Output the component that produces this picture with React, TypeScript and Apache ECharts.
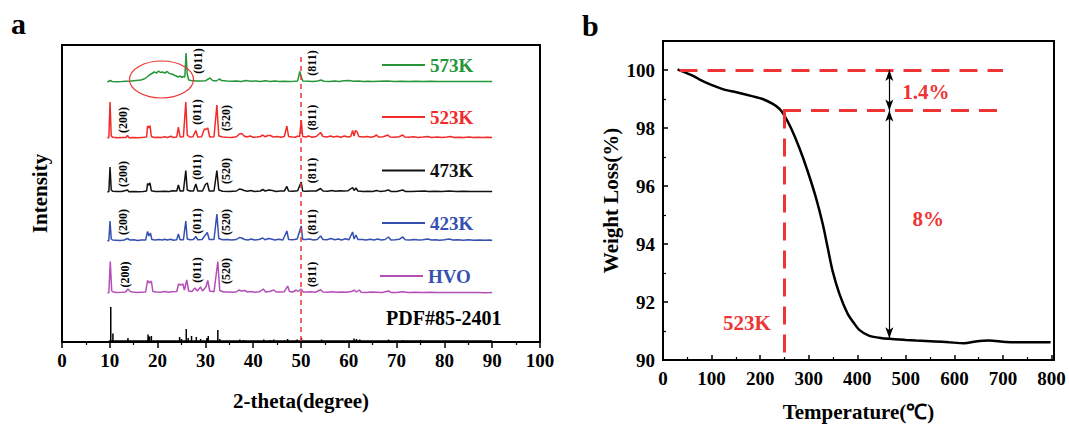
import React, { useEffect, useRef } from "react";
import * as echarts from "echarts";

const FONT = "'Liberation Serif', 'Times New Roman', serif";

// ---------- Panel a : XRD patterns (2-theta, relative intensity) ----------
const xrd573K: number[][] = [[9.5,0],[10.1,1.5],[10.5,0.5],[11.5,0.3],[12.5,0.5],[13.5,0.8],[14.5,1],[15.5,1.5],[16.5,2],[17.2,3],[17.8,5],[18.3,7],[18.8,8.5],[19.3,10],[19.8,9],[20.2,11],[20.6,9.5],[21.0,10],[21.5,9],[22.0,10.5],[22.5,8.5],[23.0,8],[23.4,7],[23.9,6],[24.3,5],[24.7,6],[25.0,4.5],[25.4,5.5],[25.7,5],[25.95,29],[26.2,8],[26.5,2],[27,1.5],[28,1],[29,1],[30,1.2],[30.6,3],[31,4],[31.5,1.5],[32.3,1],[32.9,3],[33.4,1.5],[34.5,1],[35.5,0.8],[36.5,1],[37.5,0.6],[38.5,1.5],[39.5,0.8],[40.5,1],[41.5,0.5],[42.5,1.2],[43.5,0.6],[44.5,1],[45.5,0.5],[46.5,0.8],[47.5,0.6],[48.5,0.8],[49.3,1],[49.75,10.5],[50.05,5],[50.4,1],[51.5,0.8],[52.5,0.5],[53.5,1],[54.2,2],[54.8,0.8],[56,0.6],[57,1],[58,0.5],[59,1.2],[60,1.5],[61,0.8],[62,1],[63,0.5],[64,0.8],[65,0.5],[66.5,0.8],[68,1],[69.5,0.5],[71,0.8],[72.5,0.5],[74,0.7],[75.5,0.4],[77,0.7],[78.5,0.4],[80,0.6],[82,0.4],[84,0.6],[86,0.4],[88,0.5],[90,0.4]];

const xrd523K: number[][] = [[9.5,0],[9.8,0.5],[10.05,36],[10.3,2],[10.6,0.8],[11.5,0.3],[12.5,0.6],[13.4,0.4],[13.7,2.5],[14.0,0.3],[15,0.6],[16,0.3],[17,0.7],[17.7,1],[17.9,12],[18.15,10],[18.4,12.5],[18.7,1.5],[19.2,0.5],[20,0.8],[20.8,0.4],[21.4,1.2],[22,0.5],[22.8,1.8],[23.2,0.6],[24.0,1],[24.35,11],[24.7,1],[25.4,1.2],[25.9,36],[26.2,3],[26.7,1],[27.4,1.2],[28.0,7.5],[28.4,1],[29.2,1.2],[29.8,9],[30.1,8.5],[30.5,10],[30.9,1],[31.8,1.2],[32.4,33],[32.8,2],[33.6,1],[34.5,0.8],[35.5,0.6],[36.5,1.2],[37.1,4],[37.6,4.5],[38.1,2],[38.6,1],[39.4,2],[40,0.8],[40.8,1],[41.5,1.5],[42,3],[42.5,1.2],[43.1,2.5],[43.6,2.5],[44.2,1],[45,1.5],[45.8,0.8],[46.5,1.5],[47.05,12],[47.4,1.5],[48.2,1],[48.8,0.8],[49.4,2],[49.7,1],[50.05,18],[50.35,1.5],[51,1],[51.6,2],[52.3,0.8],[53.2,1.5],[54.1,5.5],[54.6,1.5],[55.4,1],[56.2,2],[56.8,1],[57.6,1.8],[58.3,0.8],[59.1,2],[59.8,1],[60.4,1.5],[60.8,7.5],[61.1,2],[61.4,7.5],[61.75,6],[62.1,1.5],[63,1],[63.8,1.5],[64.6,0.8],[65.3,1.5],[65.8,3],[66.2,1],[67.2,1.2],[68.2,3],[68.6,1],[69.5,0.8],[70.5,1.2],[71.3,3],[71.7,1],[72.6,0.8],[73.5,1.2],[74.5,0.6],[75.5,1],[76.5,1.5],[77.3,0.6],[78.5,1],[79.5,0.5],[80.5,1],[81.3,1.5],[82,0.5],[83,0.8],[84,0.5],[85.2,1],[86,0.5],[87,0.8],[88,0.4],[89,0.8],[90,0.5]];

const xrd473K: number[][] = [[9.5,0],[9.8,0.5],[10.05,25],[10.3,2],[10.6,0.8],[11.5,0.4],[12.5,0.6],[13.7,2],[14.0,0.3],[15,0.5],[16,0.3],[17,0.5],[17.7,1],[17.9,8.5],[18.15,7],[18.4,9],[18.7,1.2],[19.5,0.5],[20.5,0.6],[21.4,0.8],[22.5,0.4],[23,1.2],[24.0,1],[24.35,7],[24.7,1],[25.4,1],[25.9,21.5],[26.2,2],[26.8,1],[27.5,1],[28.0,8],[28.4,1],[29.4,1],[30.0,7.5],[30.4,9],[30.8,1],[31.8,1],[32.4,21.5],[32.8,2],[33.6,0.8],[35,0.5],[36.5,1],[37.1,3],[37.6,2.5],[38.1,1.5],[38.8,0.8],[39.5,1.5],[40.3,0.6],[41.5,1],[42,2.5],[42.5,1],[43.3,2],[44,1.5],[44.8,0.6],[45.6,1],[46.5,1],[47.05,5.5],[47.4,1],[48.3,0.8],[49.3,1.2],[50.05,10],[50.35,1],[51,0.8],[52,1],[53.2,1],[54.1,3.5],[54.6,1],[55.6,0.8],[56.4,1.5],[57.3,0.8],[58,1.2],[59,1],[59.8,1.2],[60.8,4.5],[61.1,1.5],[61.5,4],[61.9,1],[63,0.6],[64,0.8],[65,0.5],[65.8,1.5],[66.5,0.6],[67.5,1],[68.3,2],[68.8,0.6],[70,0.5],[71.3,2],[71.8,0.6],[73,0.5],[74.5,0.8],[75.8,1],[76.7,0.5],[78,0.8],[79.5,0.4],[81,1],[82.5,0.5],[84,0.8],[85.5,0.4],[87,0.6],[88.5,0.4],[90,0.5]];

const xrd423K: number[][] = [[9.5,0],[9.8,0.5],[10.05,20],[10.3,2],[10.6,1],[11.3,0.8],[12.2,0.5],[13,1],[13.7,2.5],[14.2,1],[15,1.2],[15.8,0.6],[16.6,1],[17.5,1],[17.9,9.5],[18.2,5],[18.5,8],[18.8,1.5],[19.5,1],[20.3,1.5],[21,1],[21.5,1.8],[22,1],[22.8,1.8],[23.3,0.8],[24.0,1.2],[24.35,7],[24.7,1.2],[25.4,1.2],[25.9,20],[26.2,2],[26.8,1.2],[27.5,1.5],[28.0,4.5],[28.4,1.2],[29.3,1.5],[30.0,6],[30.4,8.5],[30.8,1.5],[31.8,1.5],[32.4,27],[32.8,2.5],[33.6,1.2],[34.5,1.5],[35.5,1],[36.5,1.5],[37.1,3.5],[37.6,3],[38.2,1.5],[38.9,1],[39.6,2],[40.3,1],[41.2,1.5],[42,3],[42.5,1.2],[43.2,2.5],[43.8,2],[44.5,1],[45.3,1.8],[46.2,1],[47.05,10],[47.4,1.5],[48.3,1.2],[49.2,2],[50.05,15],[50.35,1.5],[51,1.5],[51.8,2],[52.6,1],[53.4,1.5],[54.1,5],[54.6,1.5],[55.4,1.2],[56.3,2.5],[57,1.2],[57.8,2],[58.5,1],[59.3,2.2],[60,1.2],[60.8,9],[61.1,2],[61.5,6],[61.9,1.5],[62.8,1.5],[63.6,1],[64.5,1.8],[65.3,1],[66,2],[66.8,1],[67.6,1.5],[68.3,4],[68.8,1],[69.7,1.2],[70.6,1.8],[71.3,4],[71.8,1.2],[72.8,1],[73.7,1.5],[74.6,1],[75.5,1.2],[76.5,2],[77.3,1],[78.2,1.2],[79,0.8],[80,1.2],[81,2],[81.8,1],[82.8,1.2],[84,0.8],[85,1.2],[86.2,0.8],[87.3,1],[88.5,0.8],[89.5,1],[90,0.6]];

const xrdHVO: number[][] = [[9.5,0],[9.8,0.5],[10.1,31.5],[10.4,2],[10.7,1],[11.5,0.6],[12.5,0.8],[13.3,1],[13.8,4],[14.3,1.5],[14.8,1],[15.6,0.6],[16.5,0.8],[17.5,1],[17.9,12.5],[18.3,10],[18.7,12],[19.0,1.5],[19.8,1],[20.6,0.8],[21.5,1.5],[22.3,0.8],[23,1.2],[24,1.5],[24.4,9],[24.8,8],[25.3,9],[25.6,3],[26.1,13],[26.5,2],[27.2,1.5],[27.8,5],[28.3,2],[29.0,6],[29.4,2],[30.1,6],[30.5,12.5],[30.9,2],[31.8,1.2],[32.6,31.5],[33.0,2.5],[33.8,1],[34.8,1],[35.8,0.8],[36.5,1.2],[37.0,3],[37.5,2],[38.2,2.5],[38.8,1],[39.6,1.5],[40.4,0.8],[41.3,1.2],[42.1,4],[42.6,1],[43.4,1.5],[44.3,3],[44.8,1],[45.6,1],[46.5,1.2],[47.2,7],[47.6,1.5],[48.3,1],[49.0,3],[49.4,1.5],[50.05,4],[50.4,1],[51.2,1],[52,1.2],[53,0.8],[54.1,3.3],[54.6,1],[55.5,0.8],[56.5,1.2],[57.5,0.8],[58.5,1],[59.5,0.8],[60.5,1.5],[61.2,2.7],[61.6,1],[62.2,3],[62.6,0.8],[63.6,0.6],[64.6,1],[65.8,0.8],[67,0.6],[68.3,2],[68.8,0.6],[70,0.5],[71.2,1.2],[72.5,0.5],[74,0.8],[75.5,0.5],[77,0.8],[78.5,0.4],[80,0.6],[81.5,0.4],[83,0.6],[85,0.4],[87,0.5],[88.5,0.3],[90,0.5]];

// reference pattern PDF#85-2401 : stick positions and heights
const pdfPositions: number[] = [10.2, 10.65, 13.8, 18.0, 18.3, 18.7, 24.6, 25.0, 26.0, 26.4, 27.1, 28.1, 29.0, 30.3, 30.6, 32.6, 33.0, 37.2, 38.0, 42.2, 43.5, 44.3, 47.2, 49.2, 50.1, 54.3, 61.1, 61.6, 62.3, 68.3, 71.3, 75.0];
const pdfHeights: number[] = [34, 7.5, 3, 6.5, 4.5, 5, 4, 2, 12, 3, 5, 4, 2, 3, 5, 11, 2, 1.5, 1, 1.5, 1, 1.5, 2, 1.5, 3, 1.5, 2.5, 2, 1.5, 1.5, 1, 1];

const patternNames = ["573K", "523K", "473K", "423K", "HVO"];
const patternData = [xrd573K, xrd523K, xrd473K, xrd423K, xrdHVO];
const patternOffsets = [260, 204, 150, 101, 49];
const pdfOffset = 1;
const lineColors = ["#27963a", "#f32a2a", "#111111", "#3650b0", "#b44fb6"];
const legendTextColors = ["#27963a", "#f32a2a", "#111111", "#3650b0", "#3650b0"];

// (hkl) annotations: [label, 2-theta, height above the pattern's baseline]
const hkl573K: [string, number, number][] = [["(011)", 28.5, 21], ["(811)", 52.4, 19]];
const hkl523K: [string, number, number][] = [["(200)", 12.8, 18], ["(011)", 28.3, 26], ["(520)", 34.4, 20], ["(811)", 52.4, 20.5]];
const hkl473K: [string, number, number][] = [["(200)", 12.8, 18], ["(011)", 28.3, 25], ["(520)", 34.4, 21], ["(811)", 52.4, 21.5]];
const hkl423K: [string, number, number][] = [["(200)", 12.8, 19], ["(011)", 28.3, 20], ["(520)", 34.4, 19], ["(811)", 52.4, 19]];
const hklHVO: [string, number, number][] = [["(200)", 13.1, 18.5], ["(011)", 28.3, 23], ["(520)", 34.4, 22], ["(811)", 52.4, 18.7]];
const hklSets = [hkl573K, hkl523K, hkl473K, hkl423K, hklHVO];

const dashedTheta = 50;

// ---------- Panel b : TGA ----------
const tgaTemp: number[] = [30, 40, 62, 80, 96, 123, 151, 185, 205, 226, 240, 250, 264, 281, 298, 315, 329, 339, 349, 363, 380, 392, 404, 425, 445, 466, 500, 521, 560, 589, 620, 644, 671, 706, 754, 798];
const tgaWeight: number[] = [100.02, 99.95, 99.8, 99.63, 99.51, 99.34, 99.23, 99.09, 99.0, 98.83, 98.66, 98.43, 97.98, 97.3, 96.5, 95.59, 94.68, 93.88, 93.08, 92.29, 91.6, 91.3, 91.04, 90.83, 90.77, 90.73, 90.69, 90.67, 90.64, 90.61, 90.58, 90.64, 90.67, 90.62, 90.61, 90.61];

const stepLevels = [100, 98.6];
const onsetTemp = 250;
const arrowTemp = 466;
const finalWeight = 90.75;
const tgaTexts: { name: string; value: number[] }[] = [
  { name: "1.4%", value: [541, 99.23] },
  { name: "8%", value: [546, 94.85] },
  { name: "523K", value: [173, 91.26] },
];

const RED = "#ee3434";

export default function App() {
  const ref = useRef<HTMLDivElement>(null);

  useEffect(() => {
    if (!ref.current) return;
    const chart = echarts.init(ref.current, null, { renderer: "svg" });

    const boldText = (size: number, color = "#000") => ({
      fontFamily: FONT,
      fontWeight: "bold" as const,
      fontSize: size,
      color,
    });

    const xrdSeries: any[] = patternData.map((d, i) => ({
      name: patternNames[i],
      type: "line",
      xAxisIndex: 0,
      yAxisIndex: 0,
      symbol: "none",
      lineStyle: { color: lineColors[i], width: 1.5 },
      itemStyle: { color: lineColors[i] },
      data: d.map((p) => [p[0], p[1] + patternOffsets[i]]),
      z: 3,
    }));

    const pdfData: number[][] = [[9.8, pdfOffset]];
    pdfPositions.forEach((x, i) => {
      pdfData.push([x, pdfOffset], [x, pdfOffset + pdfHeights[i]], [x, pdfOffset]);
    });
    pdfData.push([90, pdfOffset]);

    const pdfSeries = {
      name: "PDF#85-2401",
      type: "line",
      xAxisIndex: 0,
      yAxisIndex: 0,
      symbol: "none",
      lineStyle: { color: "#000", width: 1.5 },
      data: pdfData,
      markLine: {
        silent: true,
        symbol: ["none", "none"],
        label: { show: false },
        lineStyle: { color: RED, type: [5, 4], width: 1.5 },
        data: [[{ coord: [dashedTheta, 285] }, { coord: [dashedTheta, 0] }]],
      },
    };

    const hklData: any[] = [];
    hklSets.forEach((set, i) => {
      set.forEach(([label, x, h]) => {
        hklData.push({ name: label, value: [x, patternOffsets[i] + h] });
      });
    });

    const hklSeries = {
      type: "scatter",
      xAxisIndex: 0,
      yAxisIndex: 0,
      symbolSize: 1,
      itemStyle: { color: "rgba(0,0,0,0)", opacity: 1 },
      data: hklData,
      label: {
        show: true,
        position: "inside",
        rotate: 90,
        formatter: "{b}",
        opacity: 1,
        textBorderWidth: 0,
        textBorderColor: "transparent",
        ...boldText(12),
      },
      z: 5,
    };

    const tgaSeries = {
      name: "TGA",
      type: "line",
      xAxisIndex: 1,
      yAxisIndex: 1,
      symbol: "none",
      smooth: 0.3,
      lineStyle: { color: "#000", width: 2.5 },
      data: tgaTemp.map((t, i) => [t, tgaWeight[i]]),
      markLine: {
        silent: true,
        symbol: ["none", "none"],
        label: { show: false },
        lineStyle: { color: RED, type: [18, 10], width: 3 },
        data: [
          [{ coord: [34, stepLevels[0]] }, { coord: [700, stepLevels[0]] }],
          [{ coord: [247, stepLevels[1]] }, { coord: [708, stepLevels[1]] }],
          [{ coord: [onsetTemp, stepLevels[1]] }, { coord: [onsetTemp, 90] }],
        ],
      },
      z: 3,
    };

    const tgaTextSeries = {
      type: "scatter",
      xAxisIndex: 1,
      yAxisIndex: 1,
      symbolSize: 1,
      itemStyle: { color: "rgba(0,0,0,0)", opacity: 1 },
      data: tgaTexts,
      label: {
        show: true,
        position: "inside",
        formatter: "{b}",
        opacity: 1,
        textBorderWidth: 0,
        textBorderColor: "transparent",
        ...boldText(21, RED),
      },
      markLine: {
        silent: true,
        symbol: ["arrow", "arrow"],
        symbolSize: [6, 11],
        label: { show: false },
        lineStyle: { color: "#000", type: "solid", width: 1.2, opacity: 1 },
        itemStyle: { color: "#000" },
        data: [
          [{ coord: [arrowTemp, stepLevels[0]] }, { coord: [arrowTemp, stepLevels[1]] }],
          [{ coord: [arrowTemp, stepLevels[1]] }, { coord: [arrowTemp, finalWeight] }],
        ],
      },
    };

    // legend-like graphics for panel a
    const legendRows = [65, 117, 170.5, 223, 276];
    const legendGraphics: any[] = [];
    patternNames.forEach((n, i) => {
      const y = legendRows[i];
      const x0 = i === 4 ? 380 : 382;
      legendGraphics.push({
        type: "line",
        shape: { x1: x0, y1: y, x2: x0 + 43, y2: y },
        style: { stroke: lineColors[i], lineWidth: 2 },
      });
      legendGraphics.push({
        type: "text",
        x: x0 + 48,
        y: y,
        style: {
          text: n,
          font: `bold 19px ${FONT}`,
          fill: legendTextColors[i],
          verticalAlign: "middle",
          align: "left",
        },
      });
    });

    const axisCommon = {
      axisLine: { show: true, onZero: false, lineStyle: { color: "#000", width: 2 } },
      splitLine: { show: false },
      minorSplitLine: { show: false },
    };

    const option: any = {
      animation: false,
      backgroundColor: "#fff",
      grid: [
        { left: 62, top: 45, width: 478, height: 297, show: true, borderColor: "#000", borderWidth: 2, backgroundColor: "transparent" },
        { left: 663, top: 41, width: 391, height: 322, show: true, borderColor: "#000", borderWidth: 2, backgroundColor: "transparent" },
      ],
      xAxis: [
        {
          gridIndex: 0,
          type: "value",
          min: 0,
          max: 100,
          interval: 10,
          ...axisCommon,
          axisTick: { show: true, inside: false, length: 6, lineStyle: { color: "#000", width: 1.5 } },
          minorTick: { show: true, splitNumber: 2, length: 3, lineStyle: { color: "#000", width: 1.2 } },
          axisLabel: { margin: 9, ...boldText(19) },
          name: "2-theta(degree)",
          nameLocation: "middle",
          nameGap: 48,
          nameTextStyle: boldText(21),
        },
        {
          gridIndex: 1,
          type: "value",
          min: 0,
          max: 805,
          interval: 100,
          ...axisCommon,
          axisTick: { show: true, inside: true, length: 5, lineStyle: { color: "#000", width: 1.5 } },
          minorTick: { show: true, splitNumber: 2, length: 3, lineStyle: { color: "#000", width: 1.2 } },
          axisLabel: { margin: 9, showMaxLabel: false, ...boldText(19) },
          name: "Temperature(℃)",
          nameLocation: "middle",
          nameGap: 41,
          nameTextStyle: boldText(21),
        },
      ],
      yAxis: [
        {
          gridIndex: 0,
          type: "value",
          min: 0,
          max: 297,
          ...axisCommon,
          axisTick: { show: false },
          axisLabel: { show: false },
          name: "Intensity",
          nameLocation: "middle",
          nameGap: 12,
          nameTextStyle: boldText(21),
        },
        {
          gridIndex: 1,
          type: "value",
          min: 90,
          max: 101,
          interval: 2,
          ...axisCommon,
          axisTick: { show: true, inside: true, length: 5, lineStyle: { color: "#000", width: 1.5 } },
          minorTick: { show: true, splitNumber: 2, length: 3, lineStyle: { color: "#000", width: 1.2 } },
          axisLabel: { margin: 8, showMaxLabel: false, ...boldText(19) },
          name: "Weight Loss(%)",
          nameLocation: "middle",
          nameGap: 42,
          nameTextStyle: boldText(21),
        },
      ],
      series: [...xrdSeries, pdfSeries, hklSeries, tgaSeries, tgaTextSeries],
      graphic: [
        { type: "text", x: 11, y: 8, style: { text: "a", font: `bold 30px ${FONT}`, fill: "#000" } },
        { type: "text", x: 582, y: 10, style: { text: "b", font: `bold 30px ${FONT}`, fill: "#000" } },
        ...legendGraphics,
        {
          type: "text",
          x: 386,
          y: 318,
          style: { text: "PDF#85-2401", font: `bold 20px ${FONT}`, fill: "#000", verticalAlign: "middle" },
        },
        {
          type: "ellipse",
          shape: { cx: 161.5, cy: 79.5, rx: 32, ry: 18.5 },
          style: { stroke: RED, fill: "none", lineWidth: 1.2 },
          z: 10,
        },
      ],
    };

    chart.setOption(option);
    return () => chart.dispose();
  }, []);

  return (
    <div
      ref={ref}
      style={{ position: "absolute", left: 0, top: 0, width: 1069, height: 427, background: "#fff" }}
    />
  );
}
